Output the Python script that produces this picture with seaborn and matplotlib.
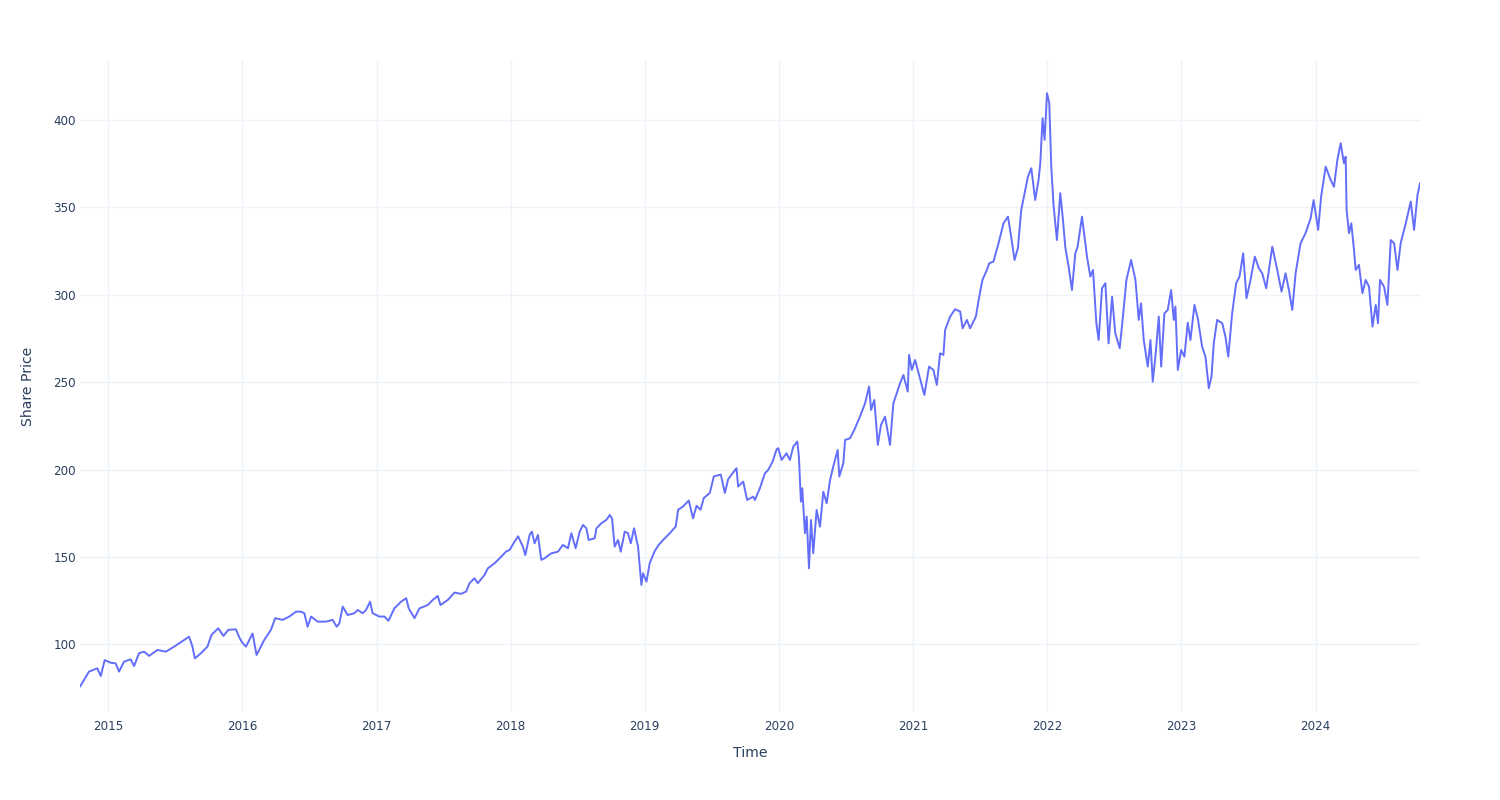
import matplotlib
matplotlib.use("Agg")
import matplotlib.pyplot as plt
import matplotlib.dates as mdates
import seaborn as sns
import pandas as pd
import numpy as np

# time as decimal years, price
years = [
    2014.791, 2014.858, 2014.920, 2014.946, 2014.975, 2015.020, 2015.057, 2015.082, 2015.119, 2015.169,
    2015.194, 2015.231, 2015.269, 2015.306, 2015.368, 2015.431, 2015.493, 2015.567, 2015.604, 2015.629,
    2015.647, 2015.692, 2015.741, 2015.771, 2015.821, 2015.860, 2015.896, 2015.953, 2015.978, 2016.000,
    2016.028, 2016.077, 2016.107, 2016.164, 2016.214, 2016.246, 2016.301, 2016.351, 2016.401, 2016.438,
    2016.463, 2016.487, 2016.513, 2016.562, 2016.625, 2016.674, 2016.704, 2016.724, 2016.749, 2016.786,
    2016.836, 2016.860, 2016.898, 2016.923, 2016.953, 2016.972, 2017.022, 2017.060, 2017.090, 2017.134,
    2017.184, 2017.222, 2017.241, 2017.284, 2017.321, 2017.383, 2017.420, 2017.457, 2017.478, 2017.532,
    2017.582, 2017.632, 2017.669, 2017.694, 2017.731, 2017.756, 2017.806, 2017.831, 2017.881, 2017.931,
    2017.968, 2017.993, 2018.030, 2018.056, 2018.092, 2018.110, 2018.142, 2018.159, 2018.179, 2018.204,
    2018.229, 2018.254, 2018.304, 2018.353, 2018.390, 2018.428, 2018.453, 2018.485, 2018.515, 2018.540,
    2018.565, 2018.582, 2018.627, 2018.640, 2018.677, 2018.714, 2018.739, 2018.756, 2018.776, 2018.801,
    2018.821, 2018.851, 2018.875, 2018.896, 2018.920, 2018.950, 2018.975, 2018.987, 2019.013, 2019.037,
    2019.075, 2019.104, 2019.137, 2019.187, 2019.231, 2019.249, 2019.286, 2019.328, 2019.360, 2019.386,
    2019.416, 2019.440, 2019.485, 2019.515, 2019.567, 2019.597, 2019.622, 2019.647, 2019.684, 2019.696,
    2019.734, 2019.763, 2019.808, 2019.821, 2019.858, 2019.896, 2019.920, 2019.953, 2019.983, 2019.995,
    2020.020, 2020.057, 2020.082, 2020.107, 2020.137, 2020.149, 2020.164, 2020.174, 2020.194, 2020.207,
    2020.224, 2020.239, 2020.256, 2020.281, 2020.306, 2020.331, 2020.356, 2020.381, 2020.405, 2020.438,
    2020.450, 2020.480, 2020.493, 2020.530, 2020.567, 2020.604, 2020.642, 2020.672, 2020.687, 2020.711,
    2020.737, 2020.761, 2020.791, 2020.828, 2020.853, 2020.878, 2020.903, 2020.928, 2020.960, 2020.970,
    2020.990, 2021.015, 2021.045, 2021.084, 2021.119, 2021.151, 2021.177, 2021.201, 2021.226, 2021.239,
    2021.276, 2021.313, 2021.351, 2021.369, 2021.401, 2021.425, 2021.468, 2021.493, 2021.517, 2021.550,
    2021.567, 2021.599, 2021.637, 2021.674, 2021.707, 2021.731, 2021.756, 2021.781, 2021.806, 2021.831,
    2021.856, 2021.881, 2021.910, 2021.935, 2021.948, 2021.965, 2021.980, 2021.998, 2022.015, 2022.030,
    2022.047, 2022.072, 2022.097, 2022.117, 2022.134, 2022.159, 2022.184, 2022.209, 2022.226, 2022.259,
    2022.296, 2022.321, 2022.341, 2022.366, 2022.383, 2022.408, 2022.433, 2022.457, 2022.483, 2022.507,
    2022.540, 2022.565, 2022.590, 2022.625, 2022.657, 2022.682, 2022.699, 2022.719, 2022.749, 2022.769,
    2022.786, 2022.806, 2022.831, 2022.849, 2022.873, 2022.898, 2022.923, 2022.943, 2022.955, 2022.973,
    2022.998, 2023.022, 2023.047, 2023.067, 2023.097, 2023.124, 2023.154, 2023.179, 2023.204, 2023.224,
    2023.241, 2023.266, 2023.304, 2023.328, 2023.349, 2023.378, 2023.408, 2023.433, 2023.460, 2023.485,
    2023.515, 2023.547, 2023.577, 2023.602, 2023.632, 2023.677, 2023.714, 2023.746, 2023.776, 2023.801,
    2023.826, 2023.851, 2023.888, 2023.925, 2023.963, 2023.985, 2024.019, 2024.041, 2024.075, 2024.112,
    2024.137, 2024.162, 2024.187, 2024.211, 2024.224, 2024.231, 2024.249, 2024.266, 2024.286, 2024.299,
    2024.323, 2024.349, 2024.373, 2024.398, 2024.424, 2024.448, 2024.465, 2024.480, 2024.510, 2024.535,
    2024.560, 2024.585, 2024.610, 2024.634, 2024.672, 2024.709, 2024.734, 2024.759, 2024.778,
]
price = [
    75.8, 84.4, 86.3, 81.9, 91.0, 89.5, 89.1, 84.4, 90.1, 91.4,
    87.6, 94.9, 95.8, 93.4, 96.8, 95.8, 98.7, 102.5, 104.4, 98.7,
    92.0, 94.9, 98.7, 105.4, 109.2, 104.8, 108.3, 108.6, 104.0, 101.0,
    98.7, 106.2, 93.9, 102.5, 108.3, 115.0, 114.0, 115.9, 118.7, 118.7,
    117.8, 110.1, 115.9, 113.0, 113.0, 114.0, 110.1, 112.0, 121.6, 116.8,
    117.8, 119.7, 117.8, 119.7, 124.4, 117.8, 115.9, 115.9, 113.5, 120.6,
    124.4, 126.4, 120.6, 115.0, 120.6, 122.5, 125.4, 127.7, 122.5, 125.4,
    129.6, 128.9, 130.2, 135.0, 137.8, 135.0, 139.7, 143.5, 146.4, 150.2,
    153.2, 154.0, 158.8, 161.8, 155.9, 151.1, 162.6, 164.5, 157.8, 162.6,
    148.3, 149.3, 152.1, 153.0, 156.9, 155.0, 163.6, 155.0, 164.5, 168.3,
    166.4, 159.7, 160.7, 166.4, 169.3, 171.2, 174.0, 172.1, 155.9, 159.7,
    153.0, 164.5, 163.6, 157.8, 166.4, 155.9, 134.0, 140.7, 135.9, 146.4,
    153.5, 156.9, 159.7, 163.6, 167.4, 177.0, 178.9, 182.3, 172.1, 179.3,
    177.0, 183.7, 186.6, 196.1, 197.1, 186.6, 194.5, 197.1, 200.8, 190.3,
    193.1, 182.6, 184.5, 182.6, 189.3, 197.9, 199.8, 204.5, 211.6, 212.2,
    205.5, 209.3, 205.5, 213.1, 216.0, 207.4, 181.6, 189.3, 163.6, 173.1,
    143.5, 171.2, 152.1, 176.9, 167.3, 187.3, 180.7, 194.0, 201.7, 211.2,
    196.0, 203.6, 216.9, 217.9, 223.6, 230.3, 237.9, 247.5, 234.1, 239.8,
    214.1, 225.6, 230.3, 214.1, 237.9, 243.7, 249.4, 254.1, 244.6, 265.6,
    257.0, 262.7, 254.1, 242.7, 258.9, 257.0, 248.4, 266.5, 265.6, 279.9,
    287.5, 291.7, 290.4, 280.8, 285.6, 280.8, 287.5, 298.9, 308.5, 314.2,
    318.0, 319.0, 329.5, 340.9, 344.7, 333.2, 319.9, 326.6, 348.5, 358.1,
    367.6, 372.4, 354.2, 365.7, 375.2, 401.0, 388.6, 415.3, 409.6, 373.0,
    351.0, 331.3, 358.1, 342.8, 327.5, 316.1, 302.7, 323.7, 327.5, 344.7,
    321.8, 310.4, 314.2, 283.7, 274.1, 303.7, 306.6, 272.2, 298.9, 278.0,
    269.4, 288.4, 308.5, 319.9, 308.5, 285.6, 295.1, 274.1, 258.9, 274.1,
    250.3, 264.6, 287.5, 258.9, 289.4, 291.3, 302.7, 285.6, 293.2, 257.0,
    268.4, 264.6, 284.0, 274.1, 294.2, 285.6, 270.3, 264.6, 246.5, 253.2,
    272.2, 285.6, 283.7, 276.0, 264.6, 289.4, 306.6, 310.4, 323.7, 298.0,
    308.5, 321.8, 315.2, 312.3, 303.7, 327.5, 314.2, 301.8, 312.3, 302.7,
    291.3, 312.3, 329.5, 335.2, 343.8, 354.2, 337.1, 356.1, 373.3, 365.7,
    361.8, 377.1, 386.7, 375.2, 379.0, 348.5, 335.2, 340.9, 325.6, 314.2,
    317.1, 300.9, 308.5, 304.6, 281.8, 294.2, 283.7, 308.5, 304.6, 294.2,
    331.3, 329.5, 314.2, 329.5, 340.9, 353.3, 337.1, 357.0, 363.8,
]

yr = np.array(years)
start = pd.Timestamp("2015-01-01")
dates = start + pd.to_timedelta((yr - 2015) * 365.25, unit="D")
df = pd.DataFrame({"Time": dates, "Share Price": price})

sns.set_style("white")
plt.rcParams["font.family"] = ["DejaVu Sans"]

fig = plt.figure(figsize=(15, 8), dpi=100)
ax = fig.add_axes([80 / 1500, 88 / 800, 1340 / 1500, 652 / 800])

sns.lineplot(data=df, x="Time", y="Share Price", color="#636efa", linewidth=1.4, ax=ax)

ax.set_xlim(df["Time"].min(), df["Time"].max())
ax.set_ylim(61.3, 434.3)
ax.set_yticks([100, 150, 200, 250, 300, 350, 400])
ax.xaxis.set_major_locator(mdates.YearLocator())
ax.xaxis.set_major_formatter(mdates.DateFormatter("%Y"))

ax.grid(True, color="#EEF2F9", linewidth=1)
ax.set_axisbelow(True)
for s in ax.spines.values():
    s.set_visible(False)
ax.tick_params(axis="both", length=0, labelsize=8.6, colors="#2a3f5f")
ax.tick_params(axis="y", pad=3)
ax.tick_params(axis="x", pad=6)

ax.set_xlabel("Time", fontsize=10.1, color="#2a3f5f", labelpad=9)
ax.set_ylabel("Share Price", fontsize=10.1, color="#2a3f5f", labelpad=13)

fig.savefig("out.png", dpi=100, facecolor="white")
